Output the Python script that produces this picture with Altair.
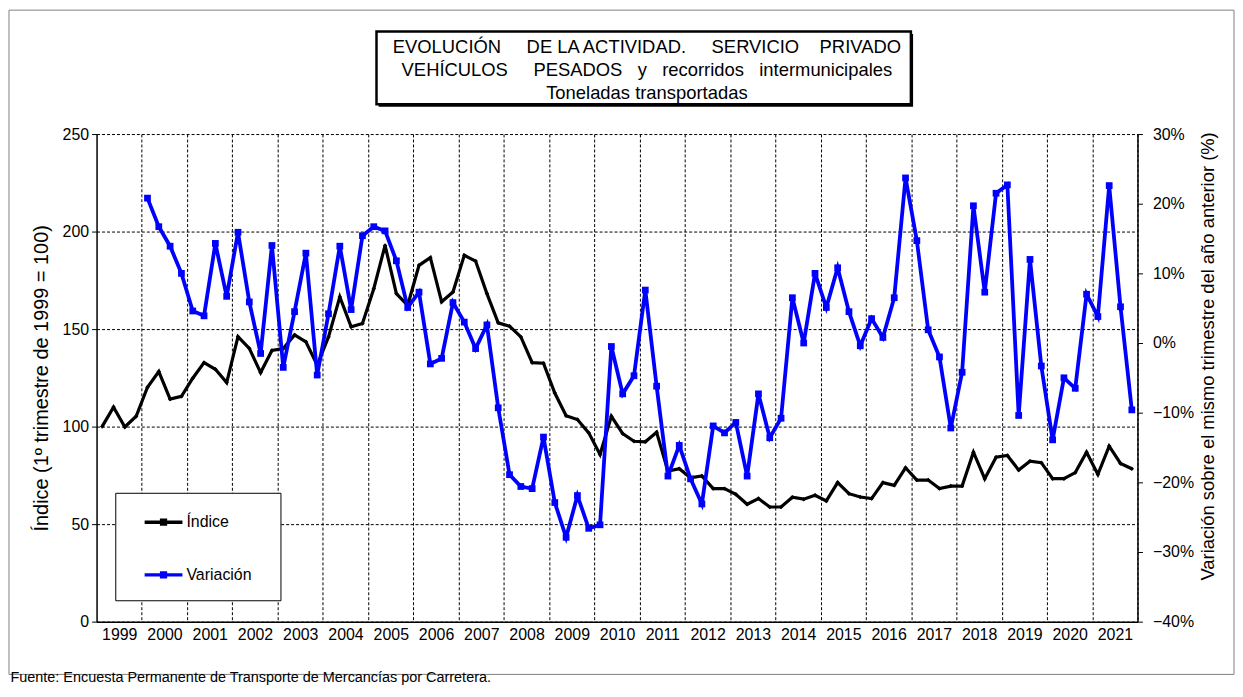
import altair as alt
import pandas as pd

# ---------------- data ----------------
years = list(range(1999, 2022))
quarters_per_year = 4

indice = [
    100.1, 110.0, 99.8, 105.3,
    120.2, 128.2, 114.1, 115.5,
    124.8, 132.8, 129.4, 122.6,
    146.1, 140.1, 127.7, 139.0,
    140.0, 147.0, 143.5, 131.6,
    146.0, 166.5, 151.2, 152.9,
    170.7, 192.9, 168.2, 162.2,
    182.7, 186.6, 164.0, 169.0,
    187.8, 184.9, 168.2, 153.2,
    151.5, 146.0, 132.8, 132.5,
    117.2, 105.6, 103.6, 96.8,
    85.7, 105.3, 96.4, 92.5,
    92.2, 97.1, 77.2, 78.4,
    73.8, 74.7, 68.2, 68.2,
    65.3, 60.2, 63.1, 58.8,
    58.8, 63.8, 62.8, 64.8,
    61.9, 71.3, 65.6, 63.9,
    63.1, 71.3, 69.9, 78.9,
    72.6, 72.6, 68.2, 69.5,
    69.5, 86.9, 73.3, 84.3,
    85.2, 77.7, 82.3, 81.5,
    73.3, 73.3, 76.4, 86.9,
    75.5, 90.0, 81.1, 78.4,
]

# % variation over same quarter of previous year, from 2000 Q1
variacion = [
    20.8, 16.7, 13.9, 10.0,
    4.6, 3.9, 14.3, 6.7,
    15.9, 5.9, -1.5, 14.0,
    -3.5, 4.5, 12.9, -4.6,
    4.2, 13.9, 4.8, 15.4,
    16.7, 16.1, 11.8, 5.1,
    7.3, -3.0, -2.2, 5.8,
    3.0, -0.8, 2.6, -9.3,
    -18.9, -20.6, -20.9, -13.5,
    -22.9, -27.9, -21.9, -26.6,
    -26.1, -0.5, -7.3, -4.7,
    7.6, -6.2, -19.1, -14.7,
    -19.5, -23.1, -11.9, -12.9,
    -11.4, -19.1, -7.3, -13.6,
    -10.8, 6.5, 0.0, 10.0,
    5.1, 10.8, 4.5, -0.4,
    3.5, 0.8, 6.5, 23.7,
    14.7, 1.9, -2.0, -12.2,
    -4.2, 19.7, 7.3, 21.5,
    22.7, -10.4, 12.0, -3.3,
    -13.9, -5.0, -6.5, 7.0,
    3.8, 22.6, 5.2, -9.6,
]

series_names = ["Índice", "Variación"]
series_colors = ["#000000", "#0000FF"]
left_ticks = [0, 50, 100, 150, 200, 250]
right_ticks = [-0.4, -0.3, -0.2, -0.1, 0.0, 0.1, 0.2, 0.3]

NB = "\u00a0"
title_lines = [
    "EVOLUCIÓN" + NB * 5 + "DE LA ACTIVIDAD." + NB * 5 + "SERVICIO" + NB * 4 + "PRIVADO",
    "VEHÍCULOS" + NB * 5 + "PESADOS" + NB * 3 + "y" + NB * 3 + "recorridos" + NB * 3 + "intermunicipales",
    "Toneladas transportadas",
]
footer = "Fuente: Encuesta Permanente de Transporte de Mercancías por Carretera."

# ---------------- tables ----------------
df_ind = pd.DataFrame({
    "t": [years[0] + (i + 0.5) / quarters_per_year for i in range(len(indice))],
    "v": indice,
    "serie": series_names[0],
})
df_var = pd.DataFrame({
    "t": [years[1] + (i + 0.5) / quarters_per_year for i in range(len(variacion))],
    "v": [x / 100 for x in variacion],
    "serie": series_names[1],
})

FONT = "Liberation Sans, Arial, sans-serif"
FS = 16
W, H = 1046, 490

x_axis = alt.Axis(
    values=list(range(2000, 2023)), labelExpr="datum.value - 1", labelOffset=-22.7,
    grid=True, gridColor="black", gridDash=[3, 2], gridWidth=1,
    ticks=False, domainColor="black", domainWidth=1.5,
    labelFontSize=FS, labelFont=FONT, labelColor="black", labelPadding=5,
    labelOverlap=False, labelFlush=False, title=None,
)
x_enc = alt.X("t:Q", scale=alt.Scale(domain=[1999, 2022], nice=False, zero=False), axis=x_axis)

color_enc = alt.Color(
    "serie:N",
    scale=alt.Scale(domain=series_names, range=series_colors),
    legend=alt.Legend(
        title=None, orient="none", legendX=19.3, legendY=361, padding=8,
        symbolType="M-1,0H1M-0.1,-0.1H0.1V0.1H-0.1Z", symbolSize=1444,
        symbolStrokeWidth=3.5, symbolOffset=19, labelOffset=2, rowPadding=23,
        labelFontSize=FS, labelFont=FONT, labelColor="black",
    ),
)

ind_line = alt.Chart(df_ind).mark_line(
    strokeWidth=3.2,
    point=alt.OverlayMarkDef(shape="diamond", size=20, filled=True, color="black"),
).encode(
    x=x_enc,
    y=alt.Y("v:Q", scale=alt.Scale(domain=[0, 250], nice=False),
            axis=alt.Axis(values=left_ticks, grid=True, gridColor="black", gridDash=[3, 2],
                          tickSize=5, tickColor="black", domainColor="black", domainWidth=1.5,
                          labelFontSize=FS, labelFont=FONT, labelColor="black", labelPadding=3,
                          title="Índice (1º trimestre de 1999 = 100)", titleFont=FONT,
                          titleFontSize=20, titleFontWeight="normal", titleColor="black",
                          titlePadding=11)),
    color=color_enc,
)

var_line = alt.Chart(df_var).mark_line(
    strokeWidth=3.8,
    point=alt.OverlayMarkDef(shape="square", size=46, filled=True, color="#0000FF"),
).encode(
    x=x_enc,
    y=alt.Y("v:Q", scale=alt.Scale(domain=[-0.4, 0.3], nice=False, zero=False),
            axis=alt.Axis(values=right_ticks, format=".0%", orient="right", grid=False,
                          tickSize=5, tickColor="black", domainColor="black", domainWidth=1.5,
                          labelFontSize=FS, labelFont=FONT, labelColor="black", labelPadding=10,
                          title="Variación sobre el mismo trimestre del año anterior (%)",
                          titleFont=FONT, titleFontSize=18.5, titleFontWeight="normal",
                          titleColor="black", titleAngle=270, titleBaseline="top",
                          titleY=223, titlePadding=5)),
    color=color_enc,
)

one = alt.Data(values=[{}])

frame = alt.Chart(one).mark_rect(fill="transparent", stroke="#808080", strokeWidth=1).encode(
    x=alt.value(-88), x2=alt.value(1143), y=alt.value(-124.5), y2=alt.value(543))

legend_box = alt.Chart(one).mark_rect(fill="white", stroke="black", strokeWidth=1).encode(
    x=alt.value(19.3), x2=alt.value(185.3), y=alt.value(361), y2=alt.value(469))

shadow = alt.Chart(one).mark_rect(fill="black").encode(
    x=alt.value(283.5), x2=alt.value(820.5), y=alt.value(-100.5), y2=alt.value(-27.5))
box = alt.Chart(one).mark_rect(fill="white", stroke="black", strokeWidth=2.5).encode(
    x=alt.value(281.3), x2=alt.value(818.3), y=alt.value(-103), y2=alt.value(-30))

title_layers = []
for k, line in enumerate(title_lines):
    title_layers.append(
        alt.Chart(one).mark_text(text=line, font=FONT, fontSize=18.5, align="center",
                                 baseline="middle", color="black")
        .encode(x=alt.value(553), y=alt.value(-87 + 23 * k))
    )

foot = alt.Chart(one).mark_text(text=footer, font=FONT, fontSize=14.5, align="left",
                                baseline="middle", color="black").encode(
    x=alt.value(-86.5), y=alt.value(547))

chart = alt.layer(
    ind_line, var_line, frame, legend_box, shadow, box, *title_layers, foot
).resolve_scale(y="independent").properties(
    width=W, height=H,
    autosize=alt.AutoSizeParams(type="none"),
    padding={"left": 89, "top": 125, "right": 98, "bottom": 62},
).configure_view(stroke=None)

chart.save("out.html", embed_options={"renderer": "svg", "actions": False})
